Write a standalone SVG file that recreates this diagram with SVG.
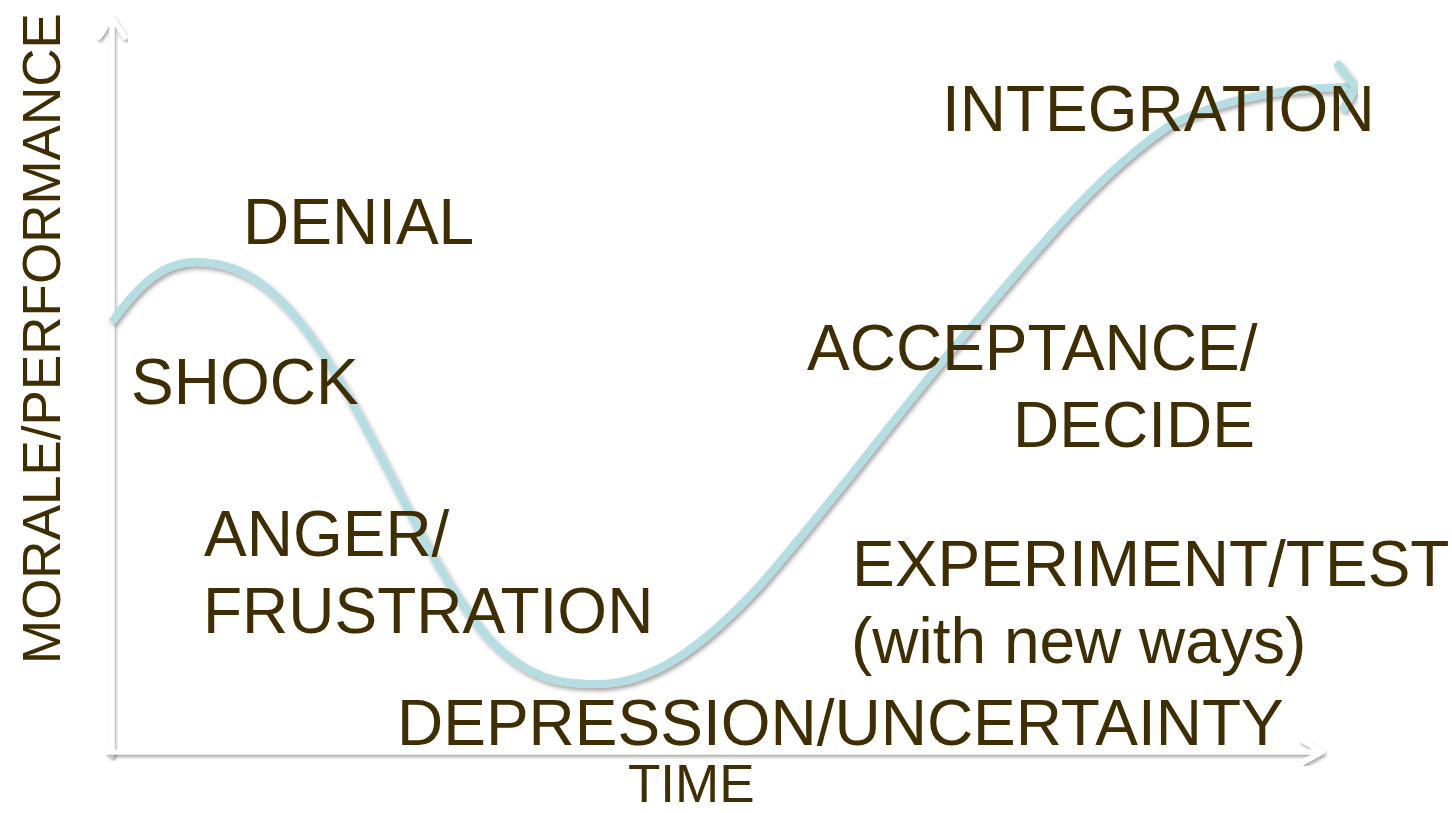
<svg xmlns="http://www.w3.org/2000/svg" width="1452" height="813" viewBox="0 0 1452 813">
  <defs>
    <filter id="axisShadow" x="-10%" y="-10%" width="120%" height="120%">
      <feDropShadow dx="1.5" dy="2.5" stdDeviation="1.6" flood-color="#000" flood-opacity="0.35"/>
    </filter>
    <filter id="curveShadow" x="-10%" y="-10%" width="120%" height="120%">
      <feDropShadow dx="2" dy="3" stdDeviation="2" flood-color="#000" flood-opacity="0.35"/>
    </filter>
  </defs>
  <style>
    .axis { fill: none; stroke: #ffffff; stroke-width: 5; stroke-linecap: round; stroke-linejoin: round; filter: url(#axisShadow); }
    .curve { fill: none; stroke: #b5dde2; stroke-width: 8; stroke-linecap: butt; stroke-linejoin: miter; filter: url(#curveShadow); }
    .stage { font-family: "Liberation Sans", Arial, sans-serif; font-size: 64px; fill: #3f2e04; }
    .axislabel { font-family: "Liberation Sans", Arial, sans-serif; font-size: 53px; fill: #3f2e04; }
  </style>

  <rect width="1452" height="813" fill="#ffffff"/>

  <!-- axes -->
  <g id="axes">
    <path class="axis" d="M112,755 L112,18 M99,37 L112,18 L125,37"/>
    <path class="axis" d="M108,752 L1322,752 M1302,740 L1322,752 L1302,763"/>
  </g>

  <!-- change curve -->
  <g id="connectors">
    <path class="curve" d="M112,322 C140,282 165,262 195,262 C240,262 270,285 300,322 C370,410 420,560 490,640 C530,680 560,684 597,684 C650,684 700,650 760,585 C830,505 900,410 960,340 C1040,245 1100,172 1170,125 C1230,95 1290,88 1352,87"/>
    <path class="curve" d="M1336,62 L1356,87 L1342,111"/>
  </g>

  <!-- stage labels -->
  <g id="integration"><text class="stage" x="942" y="131">INTEGRATION</text></g>
  <g id="denial"><text class="stage" x="243" y="244">DENIAL</text></g>
  <g id="shock"><text class="stage" x="131" y="404">SHOCK</text></g>
  <g id="acceptance">
    <text class="stage" x="807" y="370">ACCEPTANCE/</text>
    <text class="stage" x="1013" y="447">DECIDE</text>
  </g>
  <g id="anger">
    <text class="stage" x="204" y="556">ANGER/</text>
    <text class="stage" x="203" y="633">FRUSTRATION</text>
  </g>
  <g id="experiment">
    <text class="stage" x="852" y="586">EXPERIMENT/TEST</text>
    <text class="stage" x="851" y="663">(with new ways)</text>
  </g>
  <g id="depression"><text class="stage" x="397" y="745">DEPRESSION/UNCERTAINTY</text></g>

  <!-- axis labels -->
  <g id="time"><text class="axislabel" x="628" y="802">TIME</text></g>
  <g id="morale"><text class="axislabel" transform="translate(60,664) rotate(-90)">MORALE/PERFORMANCE</text></g>
</svg>
